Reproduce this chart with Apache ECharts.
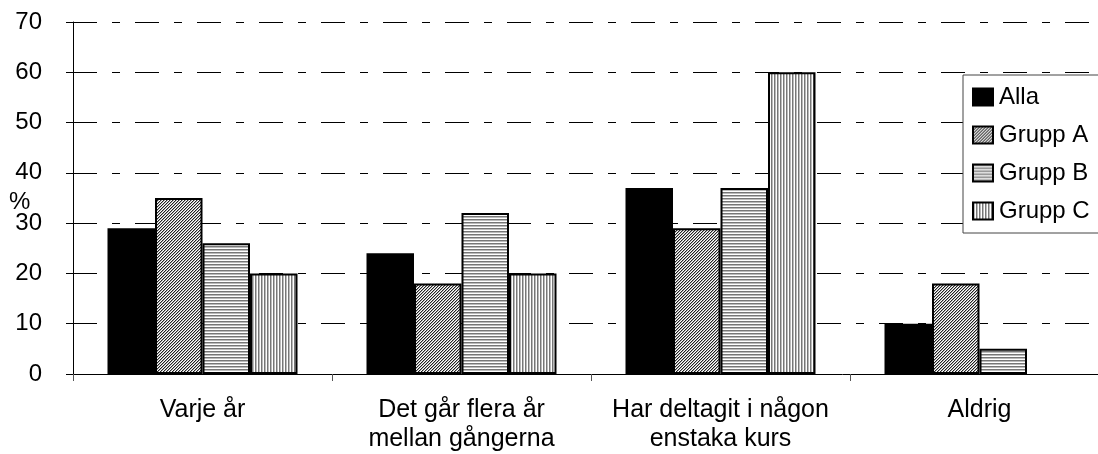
<!DOCTYPE html>
<html>
<head>
<meta charset="utf-8">
<script src="https://cdn.jsdelivr.net/npm/echarts@6/dist/echarts.min.js"></script>
<style>
html,body{margin:0;padding:0;background:#fff;}
#chart{width:1098px;height:454px;}
</style>
</head>
<body>
<div id="chart"></div>
<script>
var categories = ['Varje år', 'Det går flera år\nmellan gångerna', 'Har deltagit i någon\nenstaka kurs', 'Aldrig'];
var seriesNames = ['Alla', 'Grupp A', 'Grupp B', 'Grupp C'];
var alla   = [29, 24, 37, 10];
var gruppA = [35, 18, 29, 18];
var gruppB = [26, 32, 37, 5];
var gruppC = [20, 20, 60, 0];
var yTicks = [0, 10, 20, 30, 40, 50, 60, 70];

function makePattern(w, h, fn) {
  var c = document.createElement('canvas');
  c.width = w; c.height = h;
  var ctx = c.getContext('2d');
  for (var x = 0; x < w; x++) {
    for (var y = 0; y < h; y++) {
      ctx.fillStyle = fn(x, y);
      ctx.fillRect(x, y, 1, 1);
    }
  }
  return { image: c, repeat: 'repeat' };
}
var patA = makePattern(3, 3, function (x, y) {
  var k = (x + y) % 3;
  return k === 0 ? '#222' : (k === 1 ? '#aaa' : '#fff');
});
var patB = makePattern(3, 3, function (x, y) {
  var k = y % 3;
  return k === 0 ? '#777' : (k === 1 ? '#bbb' : '#fff');
});
var patC = makePattern(3, 3, function (x, y) {
  var k = x % 3;
  return k === 0 ? '#777' : (k === 1 ? '#bbb' : '#fff');
});

var FONT = 'Liberation Sans, Arial, sans-serif';
var FS = 24;
var fills = ['#000', patA, patB, patC];
var datas = [alla, gruppA, gruppB, gruppC];

var series = seriesNames.map(function (n, i) {
  return {
    name: n,
    type: 'bar',
    data: datas[i].map(function (v) { return v === 0 ? '-' : v; }),
    barWidth: 47.5,
    barGap: '0%',
    itemStyle: { color: fills[i], borderColor: '#000', borderWidth: 2 },
    emphasis: { disabled: true },
    animation: false
  };
});

var chart = echarts.init(document.getElementById('chart'), null, { renderer: 'canvas' });
chart.setOption({
  animation: false,
  backgroundColor: '#fff',
  textStyle: { fontFamily: FONT },
  grid: { left: 73, top: 22, width: 1036, height: 352, containLabel: false, outerBoundsMode: 'none' },
  legend: {
    orient: 'vertical',
    left: 963,
    top: 75,
    data: seriesNames,
    itemWidth: 20,
    itemHeight: 17,
    itemGap: 14,
    itemStyle: { borderColor: '#000', borderWidth: 2 },
    textStyle: { fontFamily: FONT, fontSize: FS, color: '#000', padding: [0, 0, 0, 1] },
    padding: [10, 40, 10, 9],
    borderColor: '#444',
    borderWidth: 1,
    backgroundColor: '#fff',
    selectedMode: false,
    icon: 'rect'
  },
  xAxis: {
    type: 'category',
    data: categories,
    boundaryGap: true,
    axisLine: { lineStyle: { color: '#000', width: 1 } },
    axisTick: { show: true, length: 7, lineStyle: { color: '#555' } },
    axisLabel: { color: '#000', fontFamily: FONT, fontSize: 25, lineHeight: 29, margin: 22, interval: 0 }
  },
  yAxis: {
    type: 'value',
    min: 0,
    max: 70,
    interval: 10,
    axisLine: { show: true, lineStyle: { color: '#000', width: 1 } },
    axisTick: { show: true, length: 7, lineStyle: { color: '#000' } },
    axisLabel: {
      color: '#000', fontFamily: FONT, fontSize: FS, margin: 31,
      formatter: function (v) { return yTicks.indexOf(v) >= 0 ? String(v) : ''; }
    },
    splitLine: { show: true, lineStyle: { color: '#000', width: 1, type: [24, 15, 8, 15] } }
  },
  graphic: [{
    type: 'text', left: 9, top: 190,
    style: { text: '%', fontFamily: FONT, fontSize: FS, fill: '#000' }
  }],
  series: series
});
</script>
</body>
</html>
